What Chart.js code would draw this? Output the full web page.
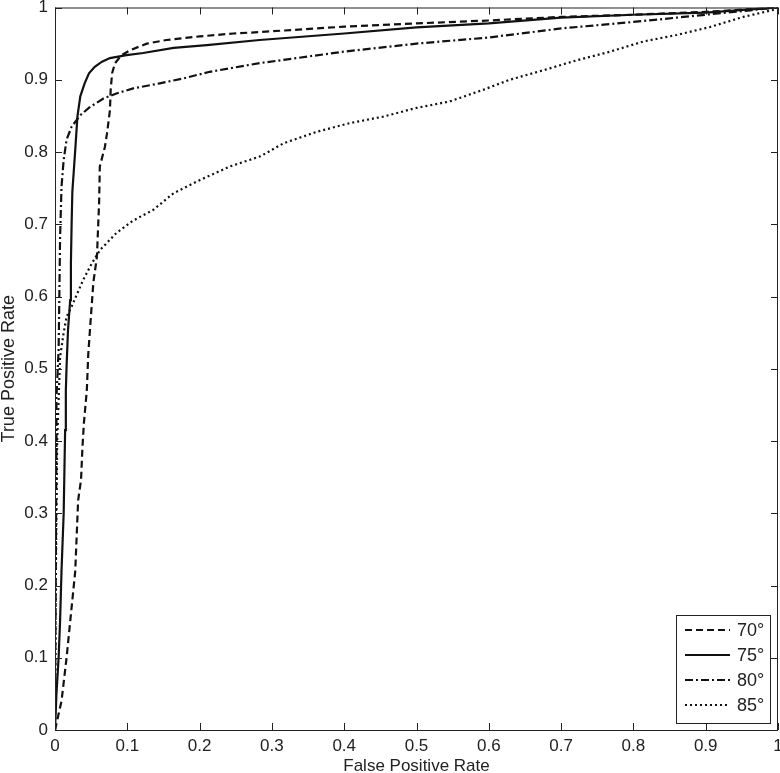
<!DOCTYPE html>
<html>
<head>
<meta charset="utf-8">
<script src="https://cdn.jsdelivr.net/npm/chart.js@4/dist/chart.umd.min.js"></script>
<style>
  body { margin: 0; background: #fff; }
  #wrap { width: 780px; height: 773px; }
</style>
</head>
<body>
<div id="wrap"><canvas id="roc" width="780" height="773"></canvas></div>
<script>
// ROC curves
var labels = ['70°', '75°', '80°', '85°'];

var fpr70 = [0, 0.009, 0.016, 0.023, 0.028, 0.032, 0.036, 0.038, 0.040, 0.044, 0.046, 0.049, 0.053, 0.058, 0.061, 0.062, 0.069, 0.072, 0.076, 0.077, 0.079, 0.083, 0.092, 0.104, 0.127, 0.154, 0.2, 0.247, 0.283, 0.4, 0.5, 0.6, 0.7, 0.8, 0.9, 1];
var tpr70 = [0, 0.04, 0.1, 0.17, 0.22, 0.318, 0.346, 0.392, 0.425, 0.47, 0.52, 0.563, 0.619, 0.655, 0.73, 0.78, 0.807, 0.826, 0.858, 0.886, 0.909, 0.923, 0.934, 0.941, 0.95, 0.955, 0.96, 0.964, 0.966, 0.9735, 0.978, 0.982, 0.987, 0.99, 0.994, 1];

var fpr75 = [0, 0.002, 0.005, 0.007, 0.009, 0.012, 0.014, 0.015, 0.016, 0.018, 0.021, 0.022, 0.023, 0.024, 0.028, 0.031, 0.035, 0.041, 0.047, 0.055, 0.065, 0.076, 0.099, 0.122, 0.164, 0.21, 0.283, 0.4, 0.5, 0.6, 0.7, 0.8, 0.9, 1];
var tpr75 = [0, 0.05, 0.1, 0.15, 0.22, 0.3, 0.415, 0.47, 0.503, 0.554, 0.595, 0.646, 0.701, 0.745, 0.803, 0.849, 0.877, 0.895, 0.909, 0.918, 0.925, 0.93, 0.934, 0.937, 0.944, 0.948, 0.955, 0.964, 0.9725, 0.978, 0.986, 0.99, 0.993, 1];

var fpr80 = [0, 0.001, 0.002, 0.002, 0.005, 0.006, 0.007, 0.009, 0.012, 0.016, 0.023, 0.035, 0.048, 0.067, 0.085, 0.108, 0.145, 0.178, 0.214, 0.283, 0.4, 0.5, 0.6, 0.7, 0.8, 0.9, 1];
var tpr80 = [0, 0.2, 0.4, 0.46, 0.526, 0.6, 0.68, 0.752, 0.789, 0.817, 0.835, 0.851, 0.862, 0.874, 0.881, 0.888, 0.895, 0.902, 0.911, 0.923, 0.939, 0.95, 0.9585, 0.971, 0.98, 0.99, 1];

var fpr85 = [0, 0.001, 0.003, 0.005, 0.007, 0.012, 0.016, 0.023, 0.029, 0.039, 0.051, 0.062, 0.085, 0.108, 0.136, 0.164, 0.2, 0.242, 0.284, 0.316, 0.362, 0.408, 0.454, 0.5, 0.546, 0.592, 0.629, 0.675, 0.722, 0.768, 0.814, 0.86, 0.906, 0.952, 0.993, 1];
var tpr85 = [0, 0.2, 0.4, 0.457, 0.516, 0.55, 0.572, 0.586, 0.6, 0.623, 0.646, 0.664, 0.688, 0.705, 0.72, 0.743, 0.761, 0.78, 0.794, 0.812, 0.828, 0.84, 0.849, 0.861, 0.87, 0.886, 0.9, 0.913, 0.927, 0.939, 0.953, 0.962, 0.973, 0.987, 0.9965, 1];

var dashes = [[7, 4], [], [8, 3, 2, 3], [2, 3]];

function pts(xs, ys) {
    return xs.map(function (x, i) { return { x: x, y: ys[i] }; });
}

var series = [[fpr70, tpr70], [fpr75, tpr75], [fpr80, tpr80], [fpr85, tpr85]];
var datasets = series.map(function (s, i) {
    return {
        label: labels[i],
        data: pts(s[0], s[1]),
        showLine: true,
        borderColor: '#111',
        borderWidth: 2.2,
        borderDash: dashes[i],
        pointRadius: 0,
        fill: false,
        tension: 0
    };
});

var ink = '#222';
var fam = '"Liberation Sans", Arial, sans-serif';

// matlab style box, inward ticks on all four sides, legend box bottom right
var boxPlugin = {
    id: 'box',
    afterDatasetsDraw: function (chart) {
        var c = chart.ctx, a = chart.chartArea;
        var xs = chart.scales.x, ys = chart.scales.y;
        c.save();
        c.strokeStyle = ink;
        c.lineWidth = 1;
        c.setLineDash([]);
        c.beginPath();
        xs.ticks.forEach(function (t) {
            var px = Math.round(xs.getPixelForValue(t.value)) + 0.5;
            c.moveTo(px, a.bottom); c.lineTo(px, a.bottom - 7);
            c.moveTo(px, a.top); c.lineTo(px, a.top + 7);
        });
        ys.ticks.forEach(function (t) {
            var py = Math.round(ys.getPixelForValue(t.value)) + 0.5;
            c.moveTo(a.left, py); c.lineTo(a.left + 7, py);
            c.moveTo(a.right, py); c.lineTo(a.right - 7, py);
        });
        c.stroke();
        c.strokeRect(a.left + 0.5, a.top + 0.5, a.right - a.left - 1, a.bottom - a.top);

        // legend
        var lx = 676, ly = 615, lw = 94, lh = 108;
        c.fillStyle = '#fff';
        c.fillRect(lx, ly, lw, lh);
        c.strokeRect(lx + 0.5, ly + 0.5, lw, lh);
        c.font = '18px ' + fam;
        c.textBaseline = 'middle';
        chart.data.datasets.forEach(function (d, i) {
            var y = ly + 15 + i * 25;
            c.strokeStyle = d.borderColor;
            c.lineWidth = d.borderWidth;
            c.setLineDash(d.borderDash);
            c.beginPath();
            c.moveTo(lx + 9, y); c.lineTo(lx + 54, y);
            c.stroke();
            c.fillStyle = ink;
            c.fillText(d.label, lx + 61, y + 1);
        });
        c.restore();
    }
};

new Chart(document.getElementById('roc'), {
    type: 'scatter',
    data: { datasets: datasets },
    options: {
        responsive: false,
        animation: false,
        layout: { padding: { top: 7.5, right: 2, bottom: 0, left: 0 } },
        plugins: {
            legend: { display: false },
            tooltip: { enabled: false }
        },
        scales: {
            x: {
                type: 'linear',
                min: 0,
                max: 1,
                afterFit: function (s) { s.height = 43; s.paddingLeft = 0; s.paddingRight = 0; },
                grid: { display: false, drawTicks: false },
                border: { display: false },
                ticks: {
                    stepSize: 0.1,
                    padding: 6,
                    color: ink,
                    font: { family: fam, size: 17 },
                    callback: function (v) { return +v.toFixed(1); }
                },
                title: {
                    display: true,
                    text: 'False Positive Rate',
                    color: ink,
                    padding: { top: 0, bottom: -2 },
                    font: { family: fam, size: 17, lineHeight: 1 }
                }
            },
            y: {
                type: 'linear',
                min: 0,
                max: 1,
                afterFit: function (s) { s.width = 55; s.paddingTop = 0; s.paddingBottom = 0; },
                grid: { display: false, drawTicks: false },
                border: { display: false },
                ticks: {
                    stepSize: 0.1,
                    padding: 7,
                    color: ink,
                    font: { family: fam, size: 17 },
                    callback: function (v) { return +v.toFixed(1); }
                },
                title: {
                    display: true,
                    text: 'True Positive Rate',
                    color: ink,
                    padding: { top: 0, bottom: 0 },
                    font: { family: fam, size: 18, lineHeight: 1 }
                }
            }
        }
    },
    plugins: [boxPlugin]
});
</script>
</body>
</html>
